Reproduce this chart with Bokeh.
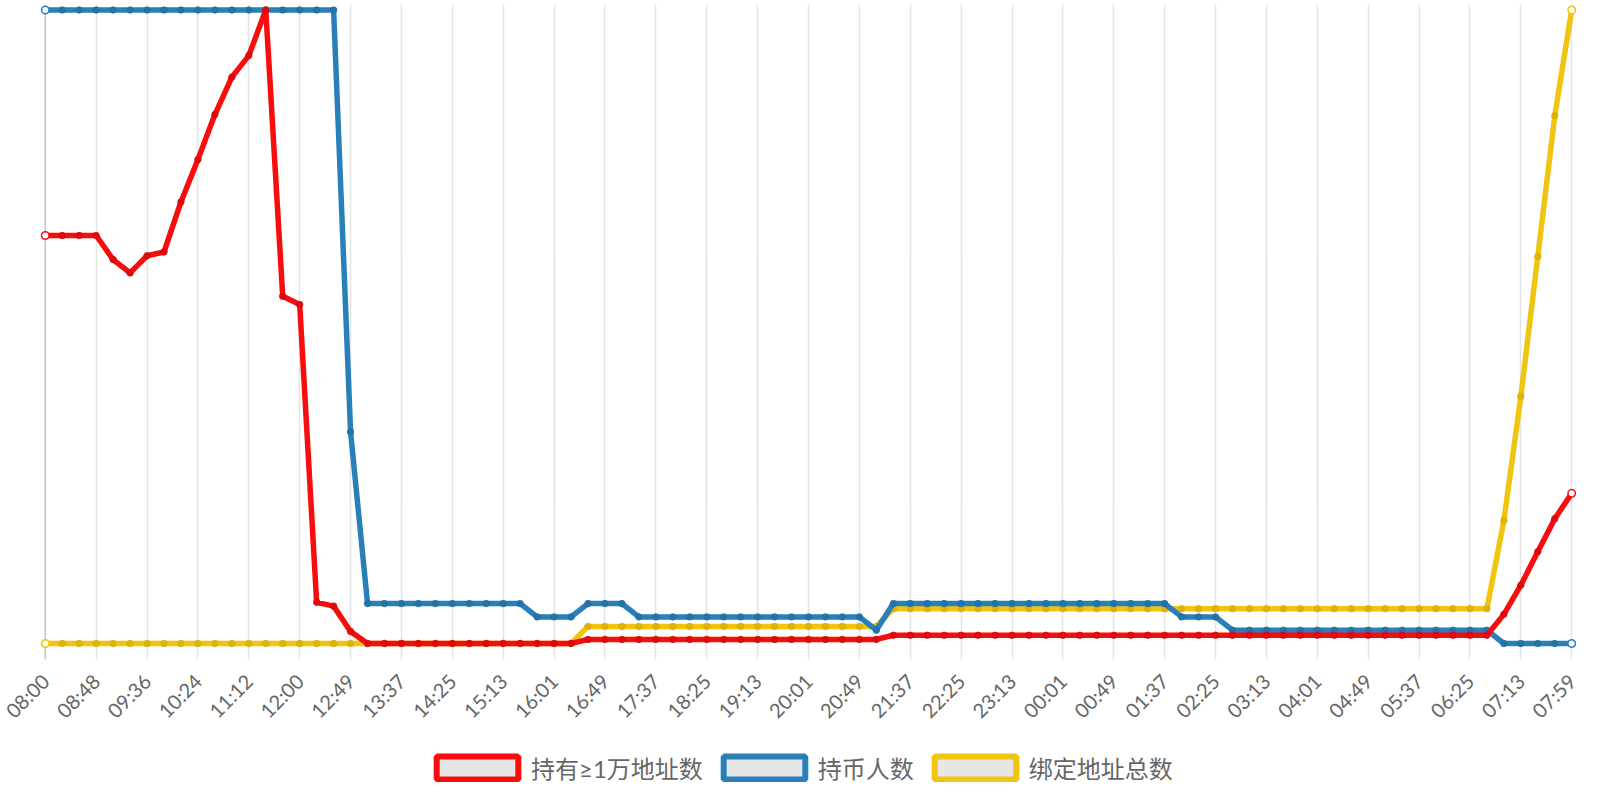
import numpy as np
from bokeh.plotting import figure
from bokeh.layouts import column
from bokeh.models import (ColumnDataSource, Range1d, FixedTicker, Legend,
                          LegendItem, Span)
from bokeh.embed import file_html
from bokeh.resources import INLINE

# ---- data (relative scale 0-100) ----
tick_labels = ["08:00", "08:48", "09:36", "10:24", "11:12", "12:00", "12:49",
               "13:37", "14:25", "15:13", "16:01", "16:49", "17:37", "18:25",
               "19:13", "20:01", "20:49", "21:37", "22:25", "23:13", "00:01",
               "00:49", "01:37", "02:25", "03:13", "04:01", "04:49", "05:37",
               "06:25", "07:13", "07:59"]

holders_10k = ([64.4, 64.4, 64.4, 64.4, 60.6, 58.5, 61.2, 61.8, 69.7, 76.4,
                83.5, 89.4, 92.8, 100.0, 54.8, 53.5, 6.5, 5.9, 1.9]
               + [0.0] * 13 + [0.65] * 18 + [1.3] * 36
               + [4.6, 9.2, 14.5, 19.7, 23.7])

holders = ([100.0] * 18 + [33.4] + [6.3] * 10 + [4.2] * 3 + [6.3] * 3
           + [4.2] * 14 + [2.1] + [6.3] * 17 + [4.2] * 3 + [2.1] * 16
           + [0.0] * 5)

bound_total = ([0.0] * 32 + [2.7] * 18 + [5.5] * 36
               + [19.4, 39.0, 61.1, 83.3, 100.0])

series_names = ["持有≥1万地址数", "持币人数", "绑定地址总数"]
series_colors = ["#f70d0d", "#2980b9", "#f1c40f"]
dot_colors = ["#d40a0a", "#236fa1", "#d8ae0c"]

label_step = 3

# ---- main figure ----
n = len(holders)
x = np.arange(n)

p = figure(width=1600, height=740, output_backend="svg", toolbar_location=None,
           x_range=Range1d(-0.4, n - 1 + 0.4), y_range=Range1d(-2.526, 100.87),
           y_axis_location=None, min_border_left=38, min_border_right=22,
           min_border_top=4, min_border_bottom=81, background_fill_color="white",
           border_fill_color="white", outline_line_color=None)

p.xaxis.ticker = FixedTicker(ticks=list(range(0, n, label_step)))
p.xaxis.major_label_overrides = {i * label_step: t for i, t in enumerate(tick_labels)}
p.xaxis.major_label_orientation = np.pi / 4
p.xaxis.major_label_text_font = "Lato"
p.xaxis.major_label_text_font_size = "20px"
p.xaxis.major_label_text_color = "#666666"
p.xaxis.major_label_standoff = 12
p.xaxis.axis_line_color = None
p.xaxis.major_tick_line_color = None
p.xaxis.minor_tick_line_color = None

p.xgrid.grid_line_color = "#e4e4e4"
p.xgrid.grid_line_width = 1.5
p.ygrid.grid_line_color = None

p.add_layout(Span(location=float(x[0]), dimension="height",
                  line_color="#c8c8c8", line_width=1.5, level="underlay"))

data = [holders_10k, holders, bound_total]
# draw in reverse so the first series is on top
for k in [2, 1, 0]:
    src = ColumnDataSource(dict(x=x, y=data[k]))
    p.line("x", "y", source=src, line_color=series_colors[k], line_width=5.5,
           line_join="round", line_cap="round")
    p.scatter("x", "y", source=src, size=6.5, marker="circle",
              fill_color=dot_colors[k], line_color=dot_colors[k],
              fill_alpha=0.8, line_alpha=0.8, line_width=1)
    ends = ColumnDataSource(dict(x=x[[0, -1]], y=[data[k][0], data[k][-1]]))
    p.scatter("x", "y", source=ends, size=7.5, marker="circle",
              fill_color="white", line_color=series_colors[k], line_width=1.5)

# ---- legend strip (separate small figure under the chart) ----
lg = figure(width=1600, height=60, output_backend="svg", toolbar_location=None,
            x_range=Range1d(0, 1), y_range=Range1d(0, 1),
            x_axis_location=None, y_axis_location=None,
            min_border_left=0, min_border_right=0, min_border_top=0,
            min_border_bottom=0, outline_line_color=None,
            background_fill_color="white", border_fill_color="white")
lg.xgrid.visible = False
lg.ygrid.visible = False

items = []
for k in range(3):
    r = lg.quad(left=[np.nan], right=[np.nan], top=[np.nan], bottom=[np.nan],
                fill_color="#e6e6e6", line_color=series_colors[k], line_width=6)
    items.append(LegendItem(label=series_names[k], renderers=[r]))

legend = Legend(items=items, orientation="horizontal", location=(383, 10),
                glyph_width=102, glyph_height=29, label_standoff=3, spacing=10,
                label_height=29,
                label_text_font="Lato, 'Noto Sans CJK SC'",
                label_text_font_size="24px",
                label_text_color="#666666", background_fill_alpha=0,
                border_line_alpha=0, padding=5, margin=0)
lg.add_layout(legend, "center")

layout = column(p, lg, spacing=0)

open("out.html", "w").write(file_html(layout, INLINE))
